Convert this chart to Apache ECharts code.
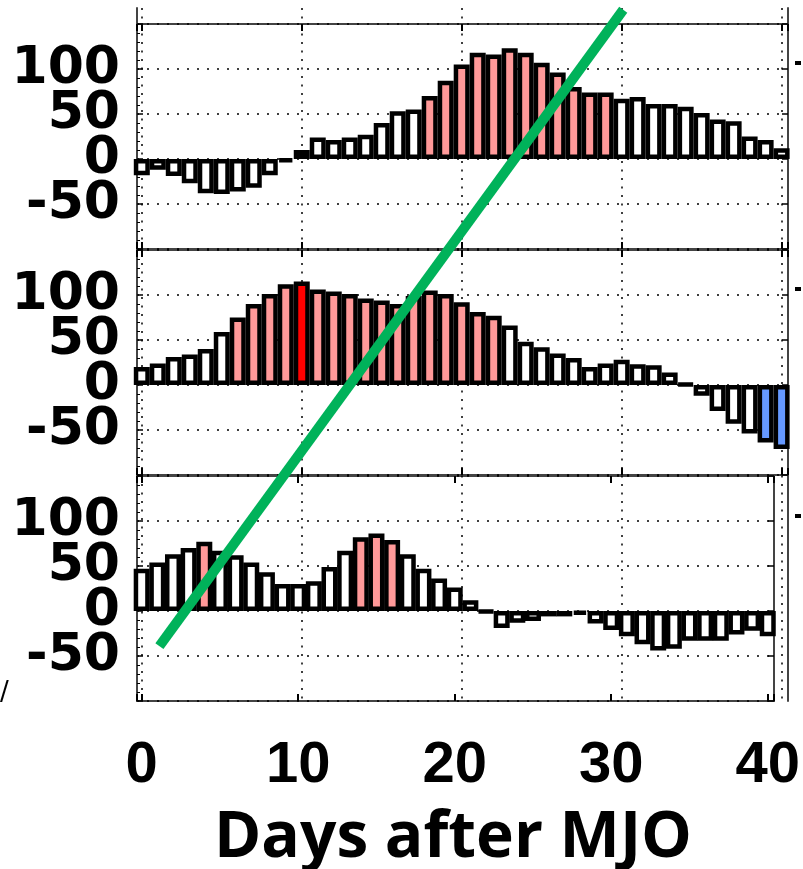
<!DOCTYPE html>
<html>
<head>
<meta charset="utf-8">
<title>Days after MJO</title>
<script src="https://cdn.jsdelivr.net/npm/echarts@6/dist/echarts.min.js"></script>
<style>
  html, body { margin: 0; padding: 0; background: #fff; }
  #main { width: 803px; height: 869px; }
</style>
</head>
<body>
<div id="main"></div>
<script>
  // x categories (days after MJO)
  const days = [0, 1, 2, 3, 4, 5, 6, 7, 8, 9, 10, 11, 12, 13, 14, 15, 16, 17, 18, 19, 20,
    21, 22, 23, 24, 25, 26, 27, 28, 29, 30, 31, 32, 33, 34, 35, 36, 37, 38, 39, 40]

  // bar values, one array per panel (top -> bottom)
  const panel1 = [-18, -12, -19, -27, -38, -39, -36, -32, -18, -3, 10, 24, 21, 24, 27, 40, 53, 55, 70, 87, 105,
    118, 116, 123, 118, 107, 96, 80, 74, 74, 67, 69, 61, 61, 58, 51, 44, 42, 25, 21, 12]
  const panel2 = [20, 24, 31, 34, 40, 59, 75, 90, 101, 112, 115, 106, 104, 101, 96, 94, 90, 99, 105, 101, 92,
    81, 77, 66, 48, 42, 35, 30, 20, 24, 28, 23, 22, 14, 1, -12, -29, -43, -54, -64, -71]
  const panel3 = [47, 54, 63, 70, 77, 67, 62, 54, 43, 30, 30, 33, 49, 67, 82, 86, 79, 63, 47, 36, 26,
    12, -1, -19, -13, -11, -6, -6, -4, -14, -21, -28, -37, -44, -42, -33, -33, -33, -26, -22, -28]

  // highlighted days per panel
  const panel1Pink = [18, 19, 20, 21, 22, 23, 24, 25, 26, 27, 28, 29]
  const panel2Pink = [6, 7, 8, 9, 11, 12, 13, 14, 15, 16, 17, 18, 19, 20, 21, 22]
  const panel2Red = [10]
  const panel2Blue = [39, 40]
  const panel3Pink = [4, 14, 15, 16]

  // tick labels
  const xTicks = [0, 10, 20, 30, 40]
  const yTicks = [-50, 0, 50, 100]

  // green overlay line (day, value in bottom panel units)
  const greenX = [1.1, 30.1]
  const greenY = [-39, 668]

  const chartInstance = echarts.init(document.getElementById('main'))

  const panelTops = [24, 250, 476]
  const panels = [
    { values: panel1, pink: panel1Pink, red: [], blue: [] },
    { values: panel2, pink: panel2Pink, red: panel2Red, blue: panel2Blue },
    { values: panel3, pink: panel3Pink, red: [], blue: [] }
  ]

  const barColor = (p, d) => {
    if (p.red.includes(d)) return '#ff0000'
    if (p.blue.includes(d)) return '#6699ff'
    if (p.pink.includes(d)) return '#ff9999'
    return '#ffffff'
  }

  const grid = panelTops.map(t => ({
    left: 137, right: 15, top: t, height: 225,
    show: true, borderColor: '#444', borderWidth: 2
  }))
  // overlay grid for the long frame lines, vertical dots and green line
  grid.push({ left: 137, right: 15, top: 8, bottom: 168 })

  const xAxis = []
  const yAxis = []
  panelTops.forEach((t, i) => {
    const isLast = i === panelTops.length - 1
    ;['bottom', 'top'].forEach(pos => {
      xAxis.push({
        type: 'value', gridIndex: i, position: pos,
        min: -0.3, max: 40.4, minInterval: 10, maxInterval: 10,
        axisLine: { show: false, onZero: false },
        axisTick: { show: true, inside: true, length: 7, lineStyle: { color: '#000', width: 2 } },
        axisLabel: {
          show: isLast && pos === 'bottom',
          formatter: v => xTicks.includes(v) ? String(v) : '',
          fontFamily: 'Liberation Sans, Arial, sans-serif', fontWeight: 'bold', fontSize: 58, color: '#000', margin: 36
        },
        splitLine: { show: false }
      })
    })
    yAxis.push({
      type: 'value', gridIndex: i, position: 'left',
      min: -100, max: 150, interval: 50,
      axisLine: { show: false, onZero: false },
      axisTick: { show: true, inside: true, length: 6, lineStyle: { color: '#000', width: 1.5 } },
      minorTick: { show: true, splitNumber: 5, length: 3, lineStyle: { color: '#000', width: 1 } },
      axisLabel: {
        formatter: v => yTicks.includes(v) ? String(v) : '',
        fontFamily: 'DejaVu Sans', fontWeight: 'bold', fontSize: 52, color: '#000', margin: 17,
        padding: [10, 0, 0, 0]
      },
      splitLine: { show: true, lineStyle: { color: '#000', width: 1.5, type: [2, 8] } }
    })
    yAxis.push({
      type: 'value', gridIndex: i, position: 'right',
      min: -100, max: 150, interval: 50,
      axisLine: { show: false, onZero: false },
      axisTick: { show: true, inside: true, length: 6, lineStyle: { color: '#000', width: 1.5 } },
      axisLabel: { show: false },
      splitLine: { show: false }
    })
  })

  // overlay axes (index 6)
  xAxis.push({
    type: 'value', gridIndex: 3,
    min: -0.3, max: 40.4, minInterval: 10, maxInterval: 10,
    axisLine: { show: false, onZero: false },
    axisTick: { show: false },
    axisLabel: { show: false },
    splitLine: { show: true, lineStyle: { color: '#000', width: 1.5, type: [2, 6.5] } }
  })
  ;['left', 'right'].forEach(pos => {
    yAxis.push({
      type: 'value', gridIndex: 3, position: pos,
      min: -100, max: 670,
      axisLine: { show: true, onZero: false, lineStyle: { color: '#444', width: 2 } },
      axisTick: { show: false },
      axisLabel: { show: false },
      splitLine: { show: false }
    })
  })

  // echarts draws the border inside the bar, so the black between bars is 2x borderWidth
  const series = panels.map((p, i) => ({
    type: 'bar',
    xAxisIndex: i * 2,
    yAxisIndex: i * 2,
    barWidth: 16,
    silent: true,
    itemStyle: { borderColor: '#000', borderWidth: 4.5 },
    data: days.map((d, k) => ({
      value: [d, p.values[k]],
      itemStyle: { color: barColor(p, d) }
    }))
  }))

  series.push({
    type: 'line',
    xAxisIndex: 6,
    yAxisIndex: 6,
    symbol: 'none',
    silent: true,
    clip: false,
    z: 10,
    lineStyle: { color: '#00b25a', width: 10, cap: 'butt' },
    data: greenX.map((x, k) => [x, greenY[k]])
  })

  const initOption = {
    animation: false,
    backgroundColor: '#fff',
    grid,
    xAxis,
    yAxis,
    series,
    graphic: [
      {
        type: 'text', x: 453, y: 839,
        style: {
          text: 'Days after MJO', fill: '#000',
          fontFamily: 'Open Sans', fontWeight: 'bold', fontSize: 64,
          align: 'center', verticalAlign: 'middle'
        }
      },
      // cut-off fragments at the picture edges
      { type: 'text', x: 0, y: 693, style: { text: '/', fill: '#000', fontFamily: 'DejaVu Sans', fontSize: 26, verticalAlign: 'middle' } },
      { type: 'rect', shape: { x: 795, y: 61, width: 6, height: 4 }, style: { fill: '#000' } },
      { type: 'rect', shape: { x: 795, y: 287, width: 6, height: 4 }, style: { fill: '#000' } },
      { type: 'rect', shape: { x: 795, y: 514, width: 6, height: 4 }, style: { fill: '#000' } }
    ]
  }
  chartInstance.setOption(initOption)
</script>
</body>
</html>
